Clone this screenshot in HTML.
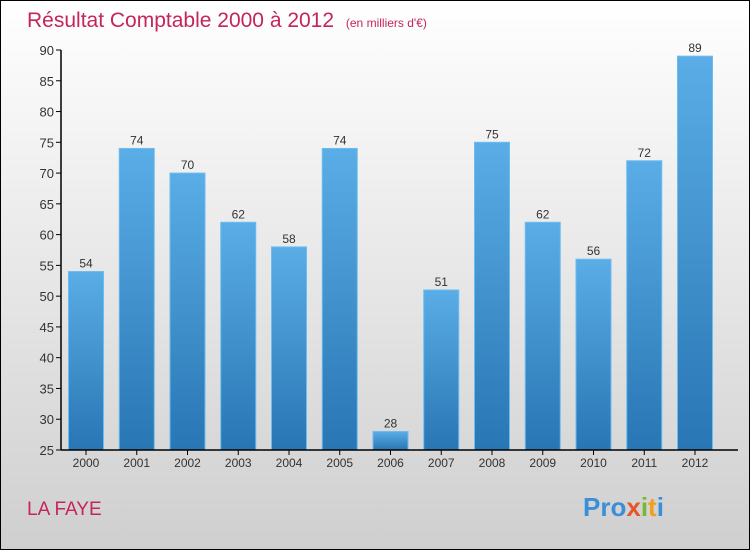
<!DOCTYPE html>
<html><head><meta charset="utf-8"><style>
body{margin:0;width:750px;height:550px;overflow:hidden;font-family:"Liberation Sans",sans-serif}
</style></head><body>
<svg id="c" width="750" height="550" xmlns="http://www.w3.org/2000/svg">
<defs>
<linearGradient id="bg" x1="0" y1="0" x2="0" y2="1"><stop offset="0" stop-color="#ffffff"/><stop offset="1" stop-color="#cfcfcf"/></linearGradient>
<linearGradient id="bar" x1="0" y1="0" x2="0" y2="1"><stop offset="0" stop-color="#5aade6"/><stop offset="1" stop-color="#2876b4"/></linearGradient>
</defs>
<rect x="0.5" y="0.5" width="749" height="549" fill="url(#bg)" stroke="#000"/>
<text x="27" y="27" font-size="21" fill="#c4255a">Résultat Comptable 2000 à 2012 <tspan font-size="12" dx="6">(en milliers d'€)</tspan></text>
<text x="27" y="515" font-size="19" fill="#c4255a">LA FAYE</text>
<text x="583" y="516" font-size="26" font-weight="bold"><tspan fill="#3a8fd8">Pro</tspan><tspan fill="#e8542a">x</tspan><tspan fill="#7ab730">i</tspan><tspan fill="#f0a020">t</tspan><tspan fill="#3a8fd8">i</tspan></text>
<g id="plot"></g>
</svg>
<script>
const years=["2000","2001","2002","2003","2004","2005","2006","2007","2008","2009","2010","2011","2012"];
const values=[54,74,70,62,58,74,28,51,75,62,56,72,89];
const yTicks=[25,30,35,40,45,50,55,60,65,70,75,80,85,90];
const ns="http://www.w3.org/2000/svg";
const g=document.getElementById('plot');
const y=v=>450-(v-25)*400/65;
const x=i=>86+i*50.75;
function mk(t,a){const e=document.createElementNS(ns,t);for(const k in a)e.setAttribute(k,a[k]);g.appendChild(e);return e;}
yTicks.forEach(t=>{
 const l=mk('line',{x1:56,x2:61,y1:y(t),y2:y(t),stroke:'#000'});
 
 
 const tx=mk('text',{x:54,y:y(t)+5,'text-anchor':'end','font-size':13,fill:'#333'});
 tx.textContent=t;
 
 
});
values.forEach((v,i)=>{
 const r=mk('rect',{x:x(i)-17.5,y:y(v),width:35,height:450-y(v),fill:'url(#bar)',stroke:'#6bbcf0','stroke-width':1});
 
 
 const t=mk('text',{x:x(i),y:y(v)-4,'text-anchor':'middle','font-size':12,fill:'#333'});
 t.textContent=v;
 
 
 const tl=mk('line',{x1:x(i),x2:x(i),y1:450,y2:455,stroke:'#000'});
 
 
 const xl=mk('text',{x:x(i),y:467,'text-anchor':'middle','font-size':12,fill:'#333'});
 xl.textContent=years[i];
 
 
});
const ya=mk('line',{x1:61,x2:61,y1:50,y2:450,stroke:'#000','stroke-width':1.5});


const xa=mk('line',{x1:61,x2:738,y1:450,y2:450,stroke:'#000','stroke-width':1.5});


</script>
</body></html>
